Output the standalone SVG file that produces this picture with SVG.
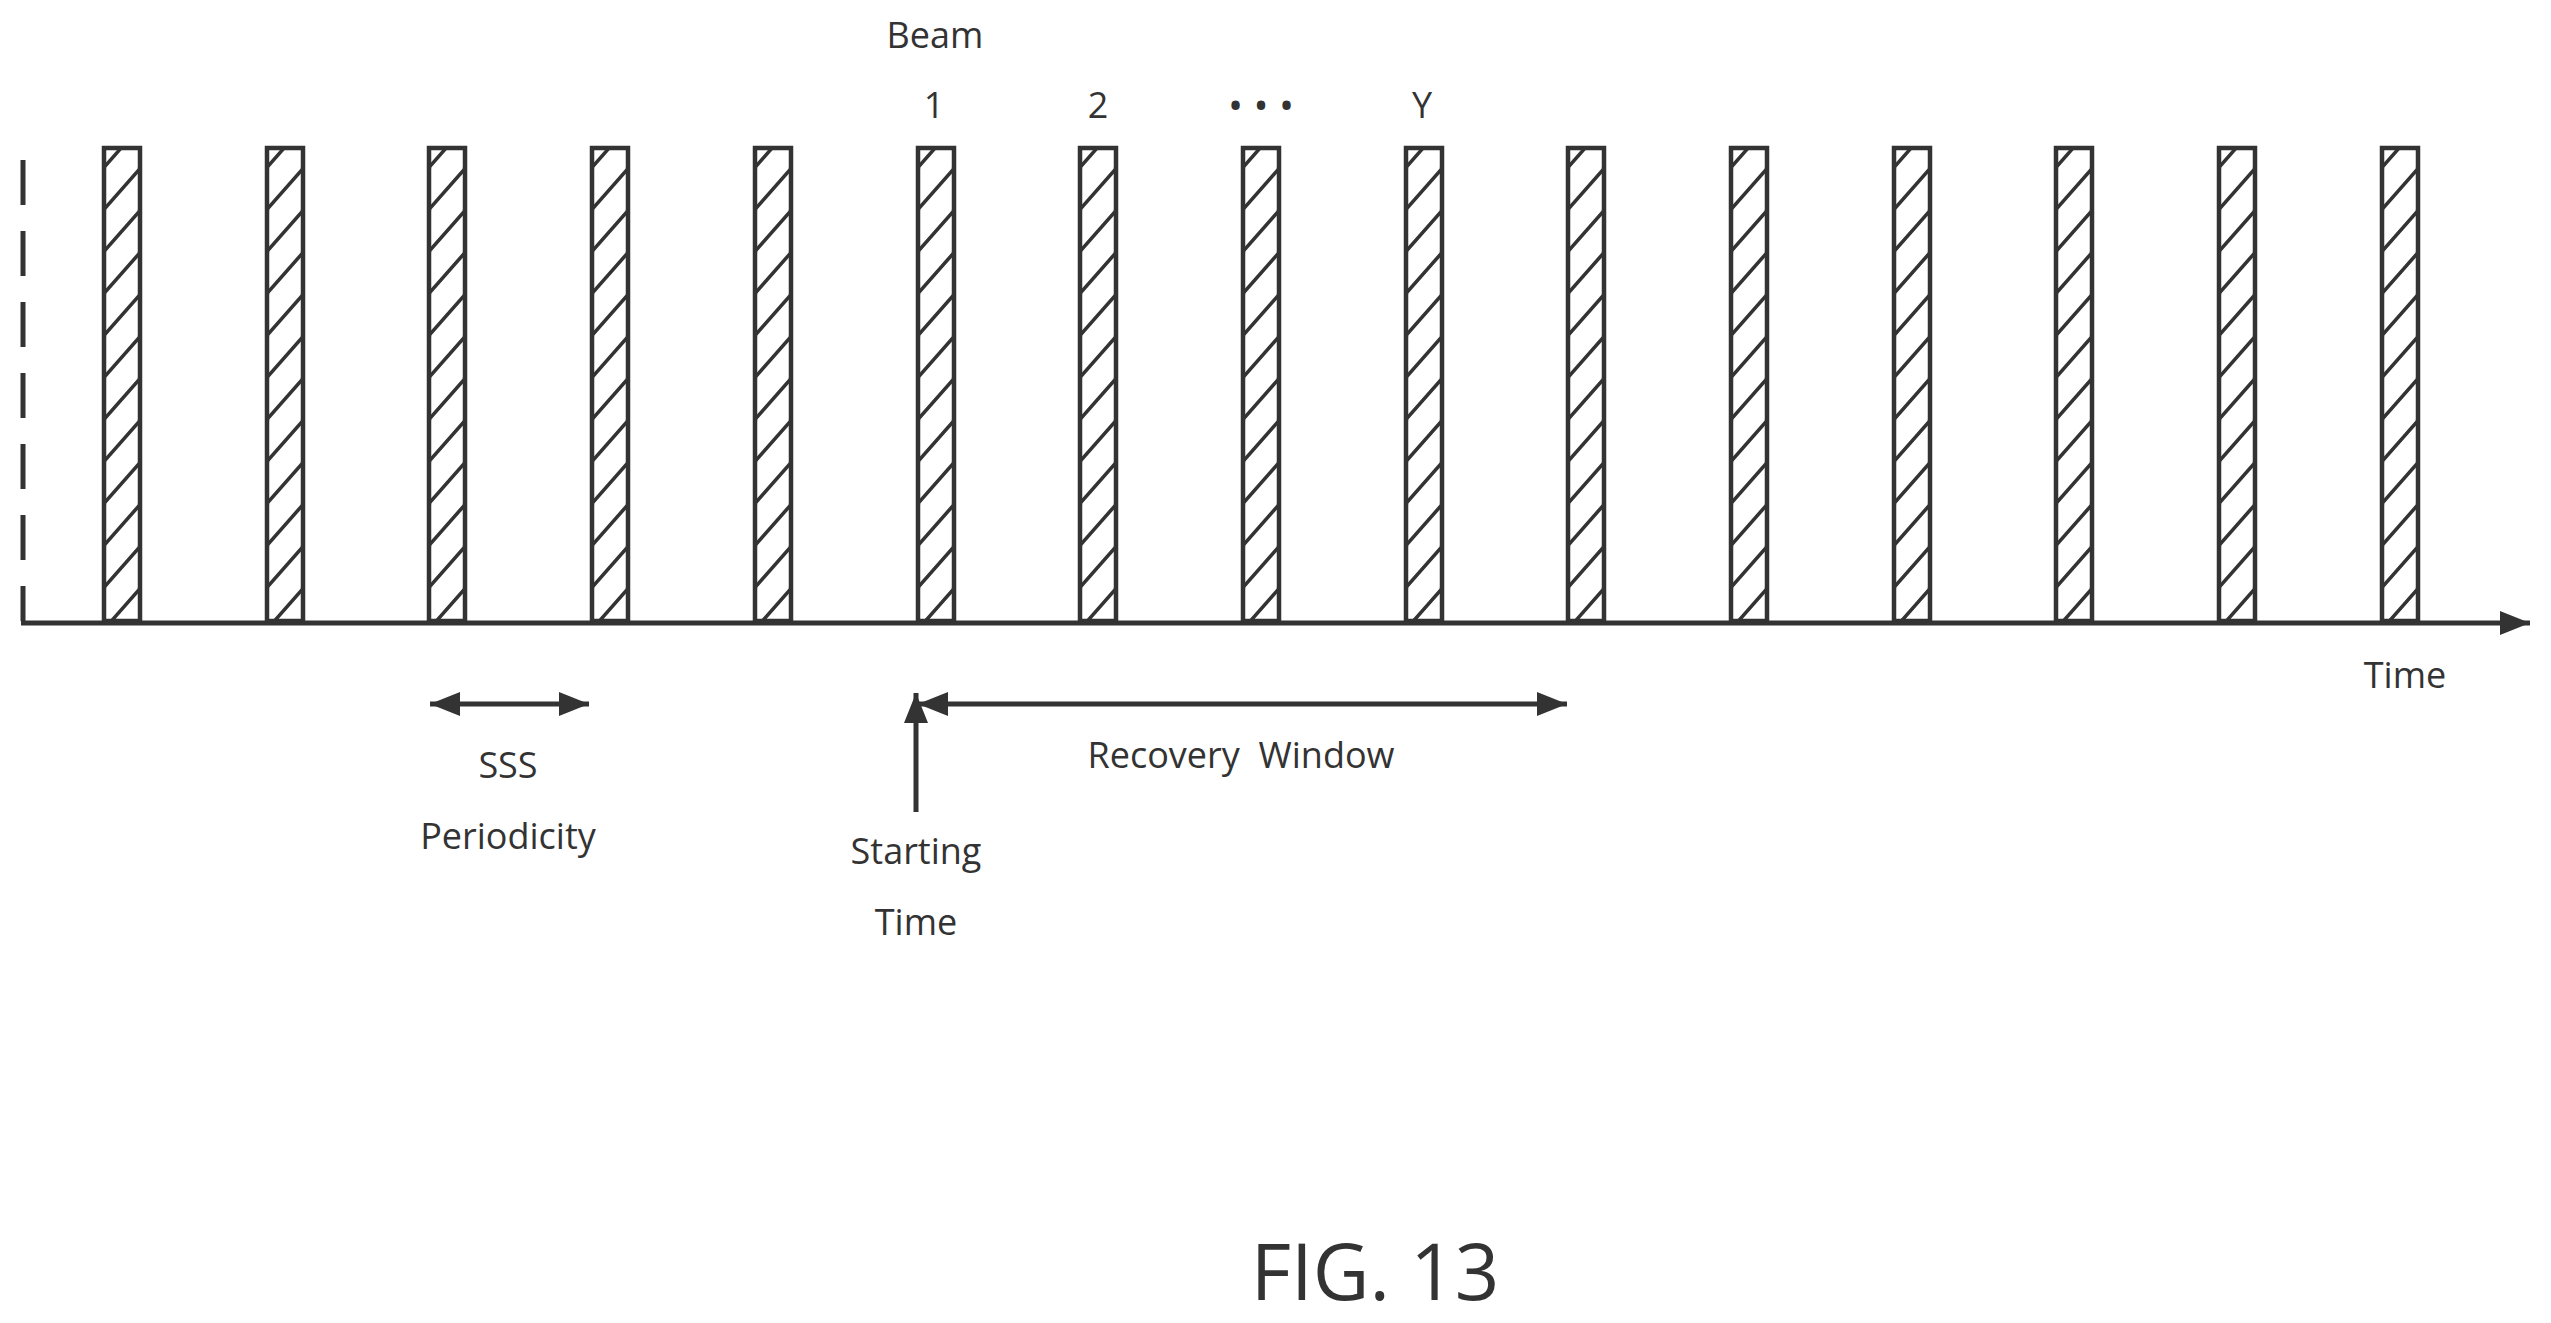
<svg xmlns="http://www.w3.org/2000/svg" xmlns:xlink="http://www.w3.org/1999/xlink" width="2551" height="1323" viewBox="0 0 2551 1323">
<style>
text{font-family:"Open Sans","Noto Sans",sans-serif;fill:#333;font-size:36px;text-anchor:middle}
.ln{stroke:#333;stroke-width:5;fill:none}
</style>
<defs>
<pattern id="h" patternUnits="userSpaceOnUse" width="36" height="42">
<path d="M-4,46 L40,-4 M-4,4 L4,-4 M32,46 L40,38" stroke="#333" stroke-width="3.5"/>
</pattern>
<g id="bar"><rect x="0" y="148" width="36" height="473" fill="url(#h)" stroke="#333" stroke-width="4.5"/></g>
<marker id="big" viewBox="0 0 10 8" refX="10" refY="4" markerWidth="30" markerHeight="24" markerUnits="userSpaceOnUse" orient="auto-start-reverse"><path d="M0,0 L10,4 L0,8 Z" fill="#333"/></marker>
</defs>
<g id="bars">
<g id="b1"><use xlink:href="#bar" x="104"/></g>
<g id="b2"><use xlink:href="#bar" x="267"/></g>
<g id="b3"><use xlink:href="#bar" x="429"/></g>
<g id="b4"><use xlink:href="#bar" x="592"/></g>
<g id="b5"><use xlink:href="#bar" x="755"/></g>
<g id="b6"><use xlink:href="#bar" x="918"/></g>
<g id="b7"><use xlink:href="#bar" x="1080"/></g>
<g id="b8"><use xlink:href="#bar" x="1243"/></g>
<g id="b9"><use xlink:href="#bar" x="1406"/></g>
<g id="b10"><use xlink:href="#bar" x="1568"/></g>
<g id="b11"><use xlink:href="#bar" x="1731"/></g>
<g id="b12"><use xlink:href="#bar" x="1894"/></g>
<g id="b13"><use xlink:href="#bar" x="2056"/></g>
<g id="b14"><use xlink:href="#bar" x="2219"/></g>
<g id="b15"><use xlink:href="#bar" x="2382"/></g>
</g>
<g id="connectors">
<line class="ln" x1="23" y1="160" x2="23" y2="621" stroke-dasharray="45,26"/>
<line class="ln" x1="21" y1="623" x2="2530" y2="623" marker-end="url(#big)"/>
<line class="ln" x1="430" y1="704" x2="589" y2="704" marker-start="url(#big)" marker-end="url(#big)"/>
<line class="ln" x1="918" y1="704" x2="1567" y2="704" marker-start="url(#big)" marker-end="url(#big)"/>
<line class="ln" x1="916" y1="812" x2="916" y2="693" marker-end="url(#big)"/>
</g>
<g id="labels">
<text x="935" y="48">Beam</text>
<text x="934" y="118">1</text>
<text x="1098" y="118">2</text>
<text x="1261" y="120" style="font-size:40px">• • •</text>
<text x="1422" y="118">Y</text>
<text x="2405" y="688">Time</text>
<text x="508" y="778">SSS</text>
<text x="508" y="849">Periodicity</text>
<text x="1241" y="768" xml:space="preserve">Recovery  Window</text>
<text x="916" y="864">Starting</text>
<text x="916" y="935">Time</text>
<text x="1375" y="1300" style="font-size:78px">FIG. 13</text>
</g>
</svg>
